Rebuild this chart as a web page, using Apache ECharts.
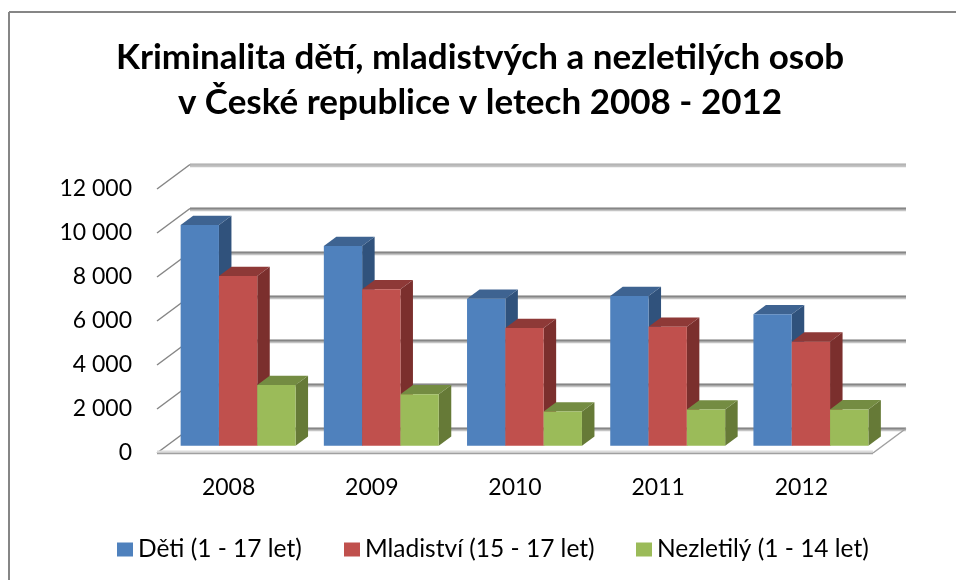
<!DOCTYPE html>
<html><head><meta charset="utf-8">
<style>html,body{margin:0;padding:0;background:#fff}#c{width:956px;height:580px}</style>
<script src="https://cdn.jsdelivr.net/npm/echarts@6/dist/echarts.min.js"></script>
</head><body><div id="c"></div>
<script>
const titleText = "Kriminalita dětí, mladistvých a nezletilých osob\nv České republice v letech 2008 - 2012";
const categories = ["2008","2009","2010","2011","2012"];
const seriesNames = ["Děti (1 - 17 let)","Mladiství (15 - 17 let)","Nezletilý (1 - 14 let)"];
const deti = [10030,9080,6680,6800,5970];
const mladistvi = [7710,7110,5350,5410,4730];
const nezletili = [2760,2340,1550,1640,1650];
const valueTicks = [0,2000,4000,6000,8000,10000,12000];
const FONT = "Lato";
const wallDX = 33, wallDY = 24.5;      // depth of the floor
const barDX = 9.5, barDY = 7.3;        // where bars stand on the floor
const sideDX = 12.5, sideDY = 9.3;     // bar's own depth
const barShare = 0.2675;
const faces = [
  {front:"#4F81BD",side:"#30527C",top:"#3E6391"},
  {front:"#C0504D",side:"#7B2F2D",top:"#8E3937"},
  {front:"#9BBB59",side:"#667A37",top:"#748C42"}
];
const grey = "#868686", soft = "#C4C4C4";

function seg(x1,y1,x2,y2,color,w){
  return {type:"line",shape:{x1,y1,x2,y2},style:{stroke:color,lineWidth:w}};
}
function poly(points,fill){
  return {type:"polygon",shape:{points},style:{fill,stroke:null}};
}
function renderWall(params,api){
  const cs = params.coordSys;
  const y = api.coord([0,api.value(1)])[1];
  const left = cs.x, right = cs.x+cs.width;
  const ch = [];
  const isFloor = api.value(1)===0;
  ch.push(seg(left+wallDX,y-wallDY+1,right+wallDX,y-wallDY+1,soft,3.5));
  ch.push(seg(left+wallDX,y-wallDY,right+wallDX,y-wallDY,api.value(1)===12000?"#B4B4B4":grey,2));
  ch.push(seg(left,y,left+wallDX,y-wallDY,grey,1.5));
  if(isFloor){
    ch.push(seg(left,y-1,right,y-1,"#DCDCDC",3));
    ch.push(seg(left,y+0.5,right,y+0.5,"#A0A0A0",1.5));
    ch.push(seg(right,y,right+wallDX,y-wallDY,"#A0A0A0",1.5));
  }
  return {type:"group",children:ch};
}
function renderBar(s){
  return function(params,api){
    const idx = api.value(0);
    const top = api.coord([idx,api.value(1)]);
    const base = api.coord([idx,0]);
    const w = api.size([1,0])[0]*barShare;
    const x0 = top[0]+barDX+(s-1.5)*w, x1 = x0+w;
    const yt = top[1]-barDY, yb = base[1]-barDY;
    const f = faces[s];
    return {type:"group",children:[
      poly([[x1,yt],[x1+sideDX,yt-sideDY],[x1+sideDX,yb-sideDY],[x1,yb]],f.side),
      poly([[x0,yt],[x0+sideDX,yt-sideDY],[x1+sideDX,yt-sideDY],[x1,yt]],f.top),
      {type:"rect",shape:{x:x0,y:yt,width:w,height:yb-yt},style:{fill:f.front}}
    ]};
  };
}
const values = [deti,mladistvi,nezletili];
const legendLeft = [112,339,631];
const chart = echarts.init(document.getElementById("c"),null,{renderer:"canvas"});
chart.setOption({
  animation:false,
  backgroundColor:"#fff",
  title:{text:titleText,left:475,top:30,textAlign:"center",
    textStyle:{fontFamily:FONT,fontWeight:"bold",fontSize:35,lineHeight:45,color:"#000"}},
  grid:{left:157,top:189,width:716,height:264,containLabel:false},
  xAxis:{type:"category",data:categories,axisLine:{show:false},axisTick:{show:false},
    axisLabel:{margin:23,fontFamily:FONT,fontSize:23,color:"#000"}},
  yAxis:{type:"value",min:0,max:12000,interval:2000,axisLine:{show:false},axisTick:{show:false},splitLine:{show:false},
    axisLabel:{margin:25,fontFamily:FONT,fontSize:23,color:"#000",
      formatter:v=>String(v).replace(/\B(?=(\d{3})+$)/g," ")}},
  legend:seriesNames.map((n,i)=>({data:[n],left:legendLeft[i],top:532,itemWidth:16,itemHeight:14,itemGap:0,icon:"rect",
    textStyle:{fontFamily:FONT,fontSize:24.5,color:"#000"}})),
  graphic:[
    {type:"line",z:-1,shape:{x1:9,y1:12,x2:956,y2:12},style:{stroke:grey,lineWidth:2}},
    {type:"line",z:-1,shape:{x1:9,y1:12,x2:9,y2:580},style:{stroke:grey,lineWidth:2}}
  ],
  series:[
    {type:"custom",name:"walls",silent:true,renderItem:renderWall,encode:{x:0,y:1},
     data:valueTicks.map(t=>[0,t])},
    ...seriesNames.map((n,s)=>({type:"custom",name:n,renderItem:renderBar(s),encode:{x:0,y:1},
      itemStyle:{color:faces[s].front},
      data:values[s].map((v,i)=>[i,v])}))
  ]
});
</script></body></html>
